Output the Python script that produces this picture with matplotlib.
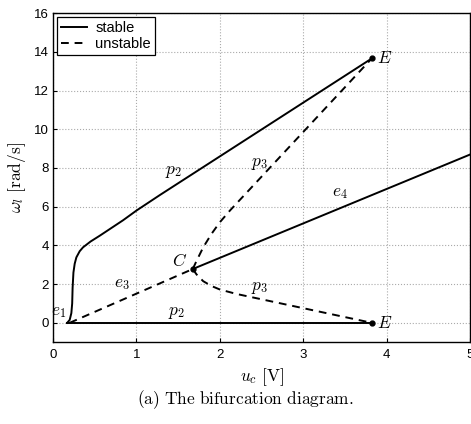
import matplotlib
matplotlib.use("Agg")
import matplotlib.pyplot as plt
import numpy as np

plt.rcParams['mathtext.fontset'] = 'cm'
plt.rcParams['font.family'] = ['Liberation Sans', 'DejaVu Sans']

# stable branches
p2_low_x = [0.17, 3.82]
p2_low_y = [0.0, 0.0]

p2_up_x = [0.17, 0.20, 0.22, 0.23, 0.235, 0.245, 0.26, 0.28, 0.32, 0.36, 0.45, 0.56, 0.84, 1.00, 1.28, 3.82]
p2_up_y = [0.0, 0.15, 0.5, 1.0, 1.8, 2.6, 3.05, 3.38, 3.7, 3.9, 4.2, 4.5, 5.3, 5.8, 6.6, 13.66]

e4_x = [1.675, 5.0]
e4_y = [2.78, 8.7]

# unstable branches
e3_x = [0.2, 1.675]
e3_y = [0.0, 2.78]

p3_up_x = [1.675, 1.72, 1.80, 1.90, 2.00, 2.12, 3.82]
p3_up_y = [2.78, 3.20, 3.90, 4.60, 5.20, 5.80, 13.66]

p3_low_x = [1.675, 1.72, 1.80, 1.90, 2.00, 2.20, 3.82]
p3_low_y = [2.78, 2.50, 2.15, 1.90, 1.72, 1.49, 0.0]

# special points
pts_x = [3.82, 3.82, 1.675]
pts_y = [13.66, 0.0, 2.78]

fig = plt.figure(figsize=(4.71, 4.24), dpi=100)
ax = fig.add_axes([0.1125, 0.193, 0.886, 0.776])

lw = 1.4
ax.plot(p2_low_x, p2_low_y, 'k-', lw=lw, label='stable')
ax.plot(p2_up_x, p2_up_y, 'k-', lw=lw)
ax.plot(e4_x, e4_y, 'k-', lw=lw)
ax.plot(e3_x, e3_y, 'k--', lw=lw, dashes=(4, 3), label='unstable')
ax.plot(p3_up_x, p3_up_y, 'k--', lw=lw, dashes=(4, 3))
ax.plot(p3_low_x, p3_low_y, 'k--', lw=lw, dashes=(4, 3))
ax.plot(pts_x, pts_y, 'ko', ms=3.5)

fs = 12.5
ax.text(3.88, 13.66, r'$E$', fontsize=fs, va='center', ha='left')
ax.text(3.88, 0.0, r'$E$', fontsize=fs, va='center', ha='left')
ax.text(1.52, 3.2, r'$C$', fontsize=fs, va='center', ha='center')
ax.text(1.44, 7.8, r'$p_2$', fontsize=fs, va='center', ha='center')
ax.text(1.48, 0.5, r'$p_2$', fontsize=fs, va='center', ha='center')
ax.text(2.48, 8.2, r'$p_3$', fontsize=fs, va='center', ha='center')
ax.text(2.48, 1.8, r'$p_3$', fontsize=fs, va='center', ha='center')
ax.text(3.44, 6.7, r'$e_4$', fontsize=fs, va='center', ha='center')
ax.text(0.82, 2.0, r'$e_3$', fontsize=fs, va='center', ha='center')
ax.text(0.07, 0.55, r'$e_1$', fontsize=fs, va='center', ha='center')

ax.set_xlim(0, 5)
ax.set_ylim(-1, 16)
ax.set_xticks(np.arange(0, 6, 1))
ax.set_yticks(np.arange(0, 17, 2))
ax.tick_params(direction='in', labelsize=9.5, length=3)
ax.tick_params(axis='x', pad=5)
ax.tick_params(axis='y', pad=3)
ax.grid(True, ls=':', color='#aaaaaa', lw=0.8)
for s in ax.spines.values():
    s.set_linewidth(1.0)

ax.set_xlabel(r'$u_c\ \mathrm{[V]}$', fontsize=12.5, labelpad=4)
ax.set_ylabel(r'$\omega_l\ \mathrm{[rad/s]}$', fontsize=12.5, labelpad=4)

leg = ax.legend(loc='upper left', fontsize=10.5, fancybox=False, framealpha=1,
                edgecolor='k', borderaxespad=0.25, handlelength=1.8,
                borderpad=0.3, labelspacing=0.1, handletextpad=0.55)
leg.get_frame().set_linewidth(0.9)

fig.text(0.52, 0.057, r'$\mathrm{(a)\ The\ bifurcation\ diagram.}$',
         fontsize=12.5, ha='center', va='center')

fig.savefig('out.png', dpi=100)
